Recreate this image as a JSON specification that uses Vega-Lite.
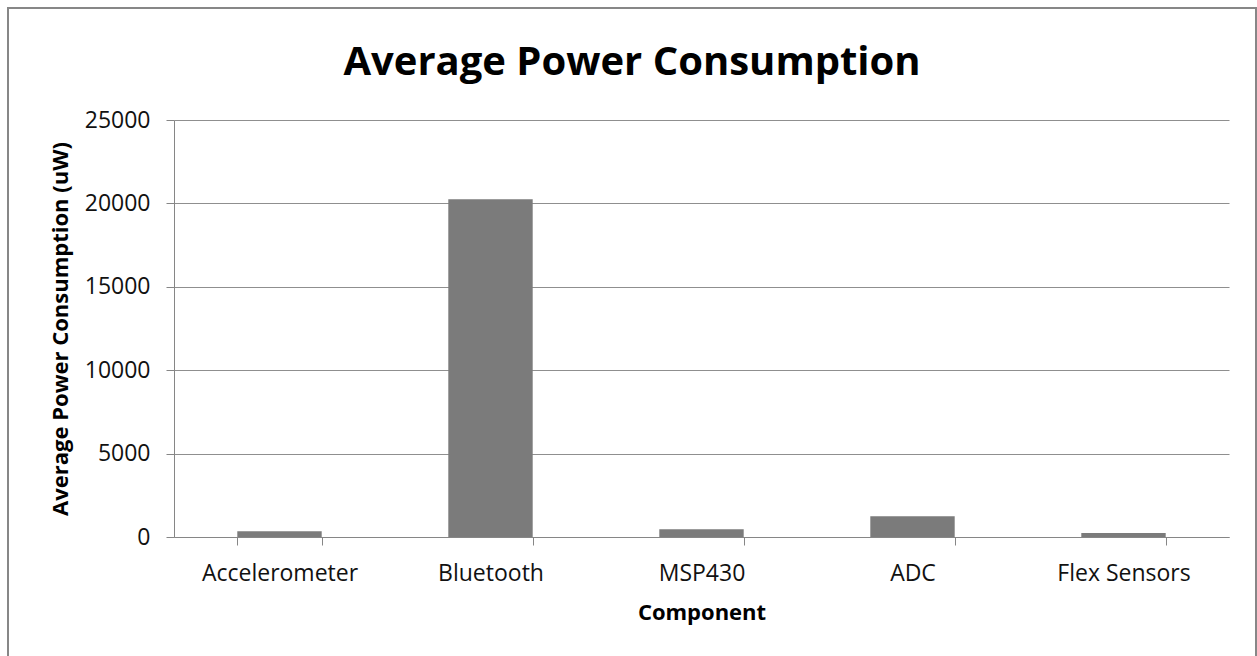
{
  "$schema": "https://vega.github.io/schema/vega-lite/v6.json",
  "description": "Average power consumption per component, Excel-style column chart inside a framed chart area.",
  "width": 1248,
  "height": 652,
  "autosize": {"type": "none"},
  "padding": {"left": 8, "top": 8, "right": 1, "bottom": 0},
  "background": "white",
  "title": {
    "text": "Average Power Consumption",
    "font": "Open Sans",
    "fontSize": 40,
    "fontWeight": "bold",
    "color": "#000000",
    "anchor": "middle",
    "frame": "group",
    "baseline": "alphabetic",
    "offset": -107
  },
  "data": {
    "values": [
      {"component": "Accelerometer", "power": 340},
      {"component": "Bluetooth", "power": 20250},
      {"component": "MSP430", "power": 470},
      {"component": "ADC", "power": 1240},
      {"component": "Flex Sensors", "power": 240}
    ]
  },
  "mark": {"type": "bar", "color": "#7b7b7b"},
  "encoding": {
    "x": {
      "field": "component",
      "type": "nominal",
      "sort": null,
      "scale": {"range": [166, 1221], "paddingInner": 0.6, "paddingOuter": 0.3},
      "axis": {
        "title": "Component",
        "offset": -123,
        "tickBand": "extent",
        "labelAngle": 0,
        "labelBaseline": "alphabetic",
        "labelPadding": 35,
        "tickSize": 8,
        "titlePadding": 17
      }
    },
    "y": {
      "field": "power",
      "type": "quantitative",
      "scale": {"domain": [0, 25000], "range": [529, 112], "nice": false},
      "axis": {
        "title": "Average Power Consumption (uW)",
        "offset": -166,
        "values": [0, 5000, 10000, 15000, 20000, 25000],
        "format": "d",
        "grid": true,
        "tickSize": 8,
        "labelPadding": 16,
        "titlePadding": 12
      }
    }
  },
  "config": {
    "view": {"stroke": "#878787", "strokeWidth": 2, "fill": "white"},
    "axis": {
      "labelFont": "Open Sans",
      "labelFontSize": 23,
      "labelColor": "#111111",
      "titleFont": "Open Sans",
      "titleFontSize": 22,
      "titleFontWeight": "bold",
      "titleColor": "#000000",
      "domainColor": "#868686",
      "domainWidth": 1,
      "tickColor": "#868686",
      "tickWidth": 1,
      "gridColor": "#8f8f8f",
      "gridWidth": 1
    }
  }
}
